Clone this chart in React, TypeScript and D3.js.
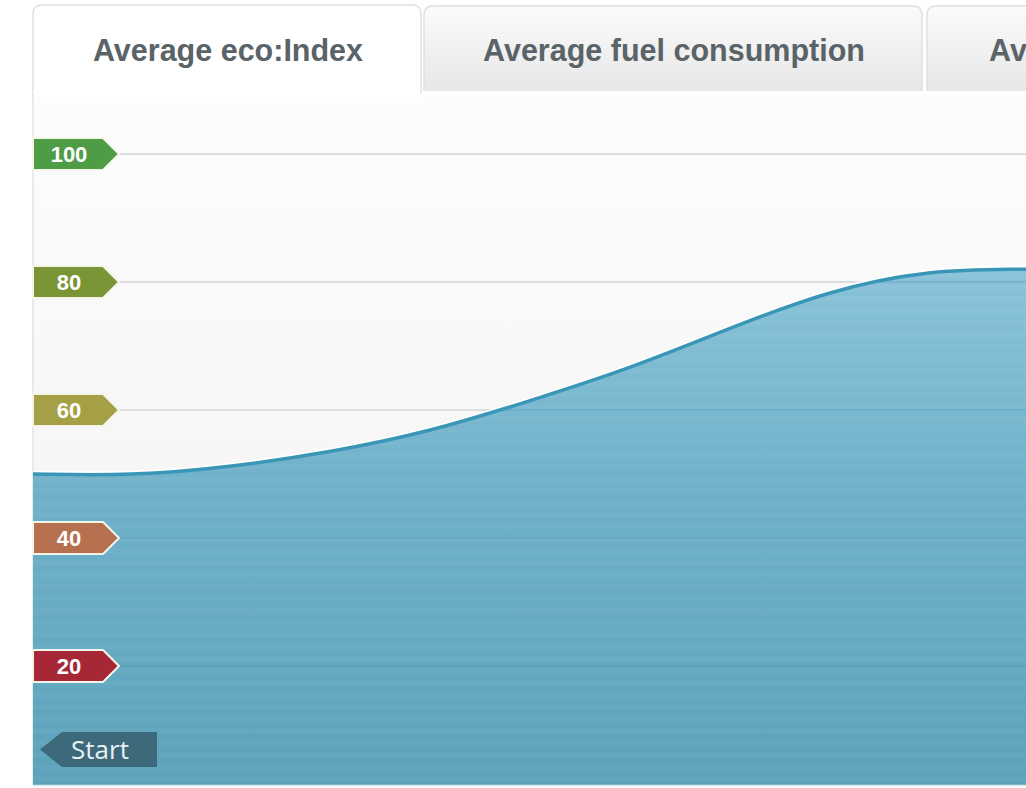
import React from "react";
import * as d3 from "d3";

const tabLabels = ["Average eco:Index", "Average fuel consumption", "Average speed"];
const progress = [0, 10, 20, 30, 40, 50, 60, 70, 80, 90, 100];
const ecoIndex = [50.0, 49.7, 51.1, 53.4, 56.6, 61.4, 66.4, 72.7, 78.6, 81.9, 82.0];
const tickValues = [20, 40, 60, 80, 100];
const startLabel = "Start";

const tagColors: Record<number, string> = {
  100: "#4f9c47",
  80: "#7a9536",
  60: "#a5a045",
  40: "#b6704f",
  20: "#a62836",
};

const W = 1026;
const H = 788;
const left = 33;
const right = 1026;
const top = 93;
const bottom = 785;

export default function App() {
  const x = d3.scaleLinear().domain([0, 100]).range([left, right]);
  const y = d3.scaleLinear().domain([0, 100]).range([794, 154]);

  const pts = progress.map((p, i) => [p, ecoIndex[i]] as [number, number]);
  const area = d3
    .area<[number, number]>()
    .x((d) => x(d[0]))
    .y0(bottom)
    .y1((d) => y(d[1]))
    .curve(d3.curveBasis);
  const line = d3
    .line<[number, number]>()
    .x((d) => x(d[0]))
    .y((d) => y(d[1]))
    .curve(d3.curveBasis);

  const tabs = [
    { x0: 33, x1: 421, y0: 5, y1: 95, active: true },
    { x0: 424, x1: 922, y0: 6, y1: 91, active: false },
    { x0: 927, x1: 1060, y0: 6, y1: 91, active: false },
  ];
  const tabPath = (t: any) => {
    const r = 9;
    return `M${t.x0},${t.y1} L${t.x0},${t.y0 + r} Q${t.x0},${t.y0} ${t.x0 + r},${t.y0} L${t.x1 - r},${t.y0} Q${t.x1},${t.y0} ${t.x1},${t.y0 + r} L${t.x1},${t.y1}`;
  };

  const stripes = d3.range(bottom - 6, 250, -12);
  const th = 16; // half tag height

  return (
    <svg
      width={W}
      height={H}
      style={{ position: "absolute", left: 0, top: 0, overflow: "hidden", background: "#ffffff" }}
    >
      <defs>
        <linearGradient id="bg" x1="0" y1="0" x2="0" y2="1">
          <stop offset="0" stopColor="#fdfdfd" />
          <stop offset="1" stopColor="#f1f1f1" />
        </linearGradient>
        <linearGradient id="areaGrad" gradientUnits="userSpaceOnUse" x1="0" y1="255" x2="0" y2={bottom}>
          <stop offset="0" stopColor="#8cc4db" />
          <stop offset="0.45" stopColor="#6fb1ca" />
          <stop offset="1" stopColor="#5ca2bb" />
        </linearGradient>
        <linearGradient id="tabGrad" x1="0" y1="0" x2="0" y2="1">
          <stop offset="0" stopColor="#fbfbfb" />
          <stop offset="1" stopColor="#e7e7e7" />
        </linearGradient>
        <clipPath id="areaClip">
          <path d={area(pts) || ""} />
        </clipPath>
      </defs>

      {/* tabs */}
      {tabs.map((t, i) => (
        <g key={i}>
          <path d={tabPath(t) + " Z"} fill={t.active ? "#ffffff" : "url(#tabGrad)"} stroke="none" />
          <path d={tabPath(t)} fill="none" stroke="#e0e0e0" strokeWidth={1.5} />
          <text
            x={i === 2 ? 989 : (t.x0 + t.x1) / 2 + 1}
            y={61}
            textAnchor={i === 2 ? "start" : "middle"}
            fontFamily="'Liberation Sans', Arial, sans-serif"
            fontWeight="bold"
            fontSize={30.5}
            fill="#5a6367"
          >
            {tabLabels[i]}
          </text>
        </g>
      ))}

      {/* plot background */}
      <rect x={left} y={top} width={right - left} height={bottom - top} fill="url(#bg)" />
      <rect x={left} y={91} width={421 - left - 1} height={6} fill="#ffffff" />
      <line x1={left} x2={left} y1={top} y2={bottom} stroke="#e3e3e3" strokeWidth={1.5} />

      {/* gridlines */}
      {tickValues.map((v) => (
        <line key={v} x1={118} x2={right} y1={y(v)} y2={y(v)} stroke="#dedede" strokeWidth={2} />
      ))}

      {/* area */}
      <path d={area(pts) || ""} fill="url(#areaGrad)" />
      <g clipPath="url(#areaClip)">
        {stripes.map((s, i) => (
          <line key={i} x1={left} x2={right} y1={s} y2={s} stroke="#ffffff" strokeOpacity={0.035} strokeWidth={5} />
        ))}
        {tickValues.map((v) => (
          <line key={v} x1={118} x2={right} y1={y(v)} y2={y(v)} stroke="#4d93ad" strokeOpacity={0.25} strokeWidth={2} />
        ))}
      </g>
      <path d={line(pts) || ""} fill="none" stroke="#ffffff" strokeWidth={2} transform="translate(0,-2.5)" opacity={0.9} />
      <path d={line(pts) || ""} fill="none" stroke="#3a96b7" strokeWidth={3.5} />
      <line x1={left} x2={right} y1={bottom + 0.5} y2={bottom + 0.5} stroke="#dbe9ee" strokeWidth={1.5} />

      {/* y tags */}
      {tickValues.map((v) => {
        const cy = y(v);
        const pts2 = [
          [33, cy - th],
          [103, cy - th],
          [119, cy],
          [103, cy + th],
          [33, cy + th],
        ]
          .map((p) => p.join(","))
          .join(" ");
        return (
          <g key={v}>
            <polygon points={pts2} fill={tagColors[v]} stroke="#f4f4e8" strokeWidth={2} strokeLinejoin="round" />
            <text
              x={69}
              y={cy + 8}
              textAnchor="middle"
              fontFamily="'Liberation Sans', Arial, sans-serif"
              fontWeight="bold"
              fontSize={22}
              fill="#ffffff"
            >
              {v}
            </text>
          </g>
        );
      })}

      {/* start tag */}
      <polygon points="40,749.5 62,732 157,732 157,767 62,767" fill="#3d6a7a" />
      <text
        x={100}
        y={759}
        textAnchor="middle"
        fontFamily="'Open Sans', 'DejaVu Sans', sans-serif"
        fontSize={26}
        fill="#e8f1f4"
      >
        {startLabel}
      </text>
    </svg>
  );
}
